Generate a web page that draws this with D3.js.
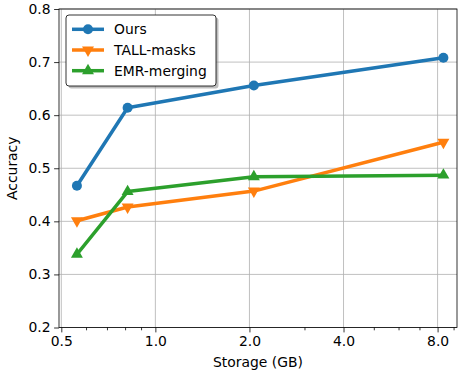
<!DOCTYPE html>
<html>
<head>
<meta charset="utf-8">
<script src="https://cdn.jsdelivr.net/npm/d3@7"></script>
<style>
  body { margin: 0; background: #fff; }
  svg { font-family: "DejaVu Sans", sans-serif; }
</style>
</head>
<body>
<svg id="chart" width="461" height="371"></svg>
<script>
// storage (GB) per point
var storage = [0.561, 0.815, 2.066, 8.35]
var ours = [0.467, 0.614, 0.656, 0.708]
var tallMasks = [0.401, 0.427, 0.457, 0.549]
var emrMerging = [0.338, 0.456, 0.484, 0.487]

var xTicks = [0.5, 1, 2, 4, 8]
var xMinor = [0.6, 0.7, 0.8, 0.9, 3, 5, 6, 7, 9]
var yTicks = [0.2, 0.3, 0.4, 0.5, 0.6, 0.7, 0.8]

var series = [
    { name: "Ours", values: ours, color: "#1f77b4", marker: "circle" },
    { name: "TALL-masks", values: tallMasks, color: "#ff7f0e", marker: "down" },
    { name: "EMR-merging", values: emrMerging, color: "#2ca02c", marker: "up" }
]

var svg = d3.select("#chart")
var plot = { left: 59, right: 457, top: 9, bottom: 327.5 }
var fs = 13.9

var x = d3.scaleLog().base(2)
    .domain([0.4916, 9.23])
    .range([plot.left, plot.right])
var y = d3.scaleLinear()
    .domain([0.2, 0.8])
    .range([plot.bottom, plot.top])

// grid
var grid = svg.append("g")
grid.selectAll(".gx").data(xTicks).enter().append("line")
    .attr("x1", d => x(d)).attr("x2", d => x(d))
    .attr("y1", plot.top).attr("y2", plot.bottom)
    .attr("stroke", "#b0b0b0").attr("stroke-width", 0.8)
grid.selectAll(".gy").data(yTicks).enter().append("line")
    .attr("x1", plot.left).attr("x2", plot.right)
    .attr("y1", d => y(d)).attr("y2", d => y(d))
    .attr("stroke", "#b0b0b0").attr("stroke-width", 0.8)

// axes
var xAxis = d3.axisBottom(x).tickValues(xTicks)
    .tickFormat(d3.format(".1f")).tickSize(4.9).tickPadding(3.5)
var xAxisMinor = d3.axisBottom(x).tickValues(xMinor)
    .tickFormat("").tickSize(2.8)
var yAxis = d3.axisLeft(y).tickValues(yTicks)
    .tickFormat(d3.format(".1f")).tickSize(4.9).tickPadding(3.5)

function styleAxis(g) {
    g.select(".domain").remove()
    g.selectAll("line").attr("stroke", "#000").attr("stroke-width", 0.8)
    g.selectAll("text").attr("fill", "#000")
        .style("font-size", fs + "px").style("font-family", "DejaVu Sans")
}

svg.append("g").attr("transform", "translate(0," + plot.bottom + ")").call(xAxis).call(styleAxis)
svg.append("g").attr("transform", "translate(0," + plot.bottom + ")").call(xAxisMinor).call(styleAxis)
svg.append("g").attr("transform", "translate(" + plot.left + ",0)").call(yAxis).call(styleAxis)

// lines + markers
var line = d3.line()
    .x((d, i) => x(storage[i]))
    .y(d => y(d))

function drawMarker(g, type, color, cx, cy) {
    if (type === "circle") {
        g.append("circle").attr("cx", cx).attr("cy", cy).attr("r", 5)
            .attr("fill", color)
    } else {
        var s = d3.symbol().type(d3.symbolTriangle).size(62)
        g.append("path").attr("d", s())
            .attr("transform", "translate(" + cx + "," + cy + ")" + (type === "down" ? " rotate(180)" : ""))
            .attr("fill", color)
    }
}

series.forEach(function (s) {
    var g = svg.append("g")
    g.append("path")
        .attr("d", line(s.values))
        .attr("fill", "none")
        .attr("stroke", s.color)
        .attr("stroke-width", 3.5)
        .attr("stroke-linejoin", "round")
        .attr("stroke-linecap", "square")
    s.values.forEach(function (v, i) {
        drawMarker(g, s.marker, s.color, x(storage[i]), y(v))
    })
})

// frame
svg.append("rect")
    .attr("x", plot.left).attr("y", plot.top)
    .attr("width", plot.right - plot.left).attr("height", plot.bottom - plot.top)
    .attr("fill", "none").attr("stroke", "#000").attr("stroke-width", 0.8)

// axis labels
svg.append("text")
    .attr("x", (plot.left + plot.right) / 2).attr("y", 367)
    .attr("text-anchor", "middle")
    .style("font-size", fs + "px")
    .text("Storage (GB)")
svg.append("text")
    .attr("transform", "translate(17," + (plot.top + plot.bottom) / 2 + ") rotate(-90)")
    .attr("text-anchor", "middle")
    .style("font-size", fs + "px")
    .text("Accuracy")

// legend
var lg = svg.append("g")
var box = { x: 66, y: 15, w: 150, h: 71 }
lg.append("rect")
    .attr("x", box.x + 2.5).attr("y", box.y + 2.5)
    .attr("width", box.w).attr("height", box.h)
    .attr("rx", 3).attr("fill", "#7f7f7f").attr("opacity", 0.5)
lg.append("rect")
    .attr("x", box.x).attr("y", box.y)
    .attr("width", box.w).attr("height", box.h)
    .attr("rx", 3).attr("fill", "#fff").attr("stroke", "#000").attr("stroke-width", 0.8)

series.forEach(function (s, i) {
    var cy = 29.3 + i * 20.7
    lg.append("line")
        .attr("x1", 72).attr("x2", 104)
        .attr("y1", cy).attr("y2", cy)
        .attr("stroke", s.color).attr("stroke-width", 3.5)
    drawMarker(lg, s.marker, s.color, 88, cy)
    lg.append("text")
        .attr("x", 114).attr("y", cy)
        .attr("dy", "0.36em")
        .style("font-size", fs + "px")
        .text(s.name)
})
</script>
</body>
</html>
